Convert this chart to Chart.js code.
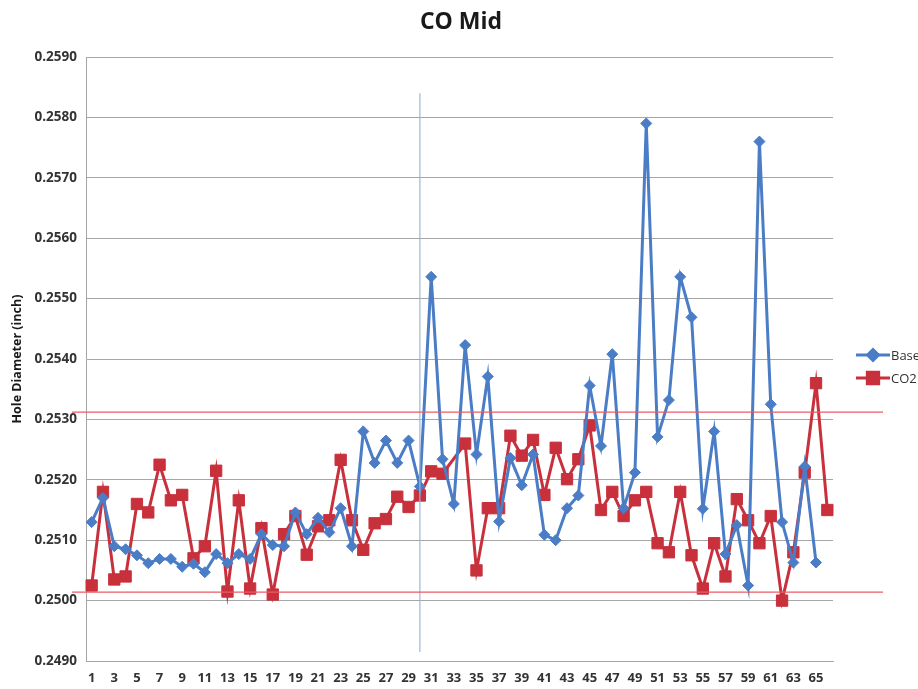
<!DOCTYPE html>
<html>
<head>
<meta charset="utf-8">
<script src="https://cdn.jsdelivr.net/npm/chart.js@4/dist/chart.umd.min.js"></script>
<style>
  html, body { margin: 0; padding: 0; background: #ffffff; }
  #wrap { width: 918px; height: 689px; position: relative; }
</style>
</head>
<body>
<div id="wrap"><canvas id="c" width="918" height="689"></canvas></div>
<script>
const chartTitle = "CO Mid";
const yAxisTitle = "Hole Diameter (inch)";
const categories = Array.from({length: 66}, (_, i) => String(i + 1));
const seriesNames = ["Base", "CO2"];
const baseValues = [
  0.2513, 0.2517, 0.2509, 0.25085, 0.25075, 0.25062, 0.25069, 0.25069, 0.25056, 0.25061,
  0.25047, 0.25077, 0.25062, 0.25077, 0.25069, 0.2511, 0.25092, 0.2509, 0.25146, 0.2511,
  0.25137, 0.25113, 0.25153, 0.2509, 0.2528, 0.25228, 0.25265, 0.25228, 0.25265, 0.25189,
  0.25536, 0.25234, 0.2516, 0.25423, 0.25242, 0.25371, 0.25131, 0.25236, 0.25191, 0.25242,
  0.25109, 0.251, 0.25153, 0.25174, 0.25356, 0.25256, 0.25408, 0.25153, 0.25212, 0.2579,
  0.25271, 0.25332, 0.25536, 0.25469, 0.25152, 0.2528, 0.25077, 0.25125, 0.25025, 0.2576,
  0.25325, 0.2513, 0.25063, 0.25222, 0.25063, null
];
const co2Values = [
  0.25025, 0.2518, 0.25035, 0.2504, 0.2516, 0.25146, 0.25225, 0.25166, 0.25175, 0.2507,
  0.2509, 0.25215, 0.25015, 0.25166, 0.2502, 0.2512, 0.2501, 0.2511, 0.2514, 0.25076,
  0.25123, 0.25133, 0.25233, 0.25133, 0.25084, 0.25128, 0.25135, 0.25172, 0.25155, 0.25174,
  0.25214, 0.2521, null, 0.2526, 0.2505, 0.25153, 0.25153, 0.25273, 0.2524, 0.25266,
  0.25175, 0.25253, 0.25201, 0.25234, 0.2529, 0.2515, 0.2518, 0.2514, 0.25166, 0.2518,
  0.25095, 0.2508, 0.2518, 0.25075, 0.2502, 0.25095, 0.2504, 0.25168, 0.25133, 0.25095,
  0.2514, 0.25, 0.2508, 0.25212, 0.2536, 0.2515
];
const yMin = 0.2490, yMax = 0.2590, yStep = 0.0010;
const upperLimit = 0.25312;
const lowerLimit = 0.25014;
const markerCategory = "30";
const markerTop = 0.2584;
const markerBottom = 0.24915;

const BLUE = '#4a7dc6';
const RED = '#c8303c';
const FONT = "'Open Sans', 'Liberation Sans', sans-serif";

const overlay = {
  id: 'overlay',
  afterDatasetsDraw(chart) {
    const {ctx, chartArea, scales} = chart;
    const x = scales.x, y = scales.y;
    ctx.save();
    const vx = x.getPixelForValue(categories.indexOf(markerCategory));
    ctx.strokeStyle = '#9fb6d6';
    ctx.lineWidth = 1.2;
    ctx.beginPath();
    ctx.moveTo(vx, y.getPixelForValue(markerTop));
    ctx.lineTo(vx, y.getPixelForValue(markerBottom));
    ctx.stroke();
    ctx.strokeStyle = '#ec5a66';
    ctx.lineWidth = 1.3;
    [upperLimit, lowerLimit].forEach(v => {
      const py = y.getPixelForValue(v);
      ctx.beginPath();
      ctx.moveTo(chartArea.left - 14, py);
      ctx.lineTo(chartArea.right + 50, py);
      ctx.stroke();
    });
    ctx.restore();
  },
  afterDraw(chart) {
    const {ctx, chartArea} = chart;
    ctx.save();
    ctx.fillStyle = '#1a1a1a';
    ctx.font = "bold 23px " + FONT;
    ctx.textAlign = 'center';
    ctx.textBaseline = 'middle';
    ctx.fillText(chartTitle, 461, 22);
    const items = chart.data.datasets;
    const cy = (chartArea.top + chartArea.bottom) / 2;
    items.forEach((ds, i) => {
      const ly = cy - 4 + i * 23;
      const lx = chartArea.right + 23;
      ctx.strokeStyle = ds.borderColor;
      ctx.lineWidth = 3;
      ctx.beginPath();
      ctx.moveTo(lx, ly);
      ctx.lineTo(lx + 34, ly);
      ctx.stroke();
      Chart.helpers.drawPoint(ctx, {pointStyle: ds.pointStyle, radius: ds.pointRadius, borderWidth: 1}, lx + 17, ly);
      ctx.fillStyle = ds.backgroundColor;
      ctx.strokeStyle = ds.borderColor;
      ctx.fill();
      ctx.fillStyle = '#333';
      ctx.font = "13px " + FONT;
      ctx.textAlign = 'left';
      ctx.fillText(ds.label, lx + 35, ly + 1);
    });
    ctx.restore();
  }
};

new Chart(document.getElementById('c'), {
  type: 'line',
  data: {
    labels: categories,
    datasets: [
      {
        label: seriesNames[0], data: baseValues,
        borderColor: BLUE, backgroundColor: BLUE, borderWidth: 3,
        pointStyle: 'rectRot', pointRadius: 5.5, pointBorderWidth: 1,
        tension: 0, spanGaps: false
      },
      {
        label: seriesNames[1], data: co2Values,
        borderColor: RED, backgroundColor: RED, borderWidth: 3,
        pointStyle: 'rect', pointRadius: 8, pointBorderWidth: 1,
        tension: 0, spanGaps: true
      }
    ]
  },
  options: {
    responsive: false,
    animation: false,
    layout: { padding: { left: 0, top: 57, right: 85, bottom: 0 } },
    plugins: { legend: { display: false }, title: { display: false }, tooltip: { enabled: false } },
    scales: {
      x: {
        type: 'category',
        offset: true,
        grid: { display: false, drawTicks: false },
        border: { display: true, color: '#a6a6a6', width: 1 },
        ticks: {
          autoSkip: false, maxRotation: 0, minRotation: 0, padding: 9,
          color: '#333333', font: { family: FONT, size: 13, weight: 'bold' },
          callback: (v, i) => (i % 2 === 0 ? categories[i] : '')
        },
        afterFit: s => { s.height = 28; }
      },
      y: {
        min: yMin, max: yMax,
        grid: { color: '#a6a6a6', lineWidth: 1, drawTicks: false },
        border: { display: true, color: '#a6a6a6', width: 1 },
        ticks: {
          stepSize: yStep, padding: 9,
          color: '#333333', font: { family: FONT, size: 13.5, weight: 'bold' },
          callback: v => Number(v).toFixed(4)
        },
        title: {
          display: true, text: yAxisTitle, color: '#1a1a1a',
          font: { family: FONT, size: 12.5, weight: 'bold' }, padding: { top: 10, bottom: 0 }
        },
        afterFit: s => { s.width = 86; }
      }
    }
  },
  plugins: [overlay]
});
</script>
</body>
</html>
